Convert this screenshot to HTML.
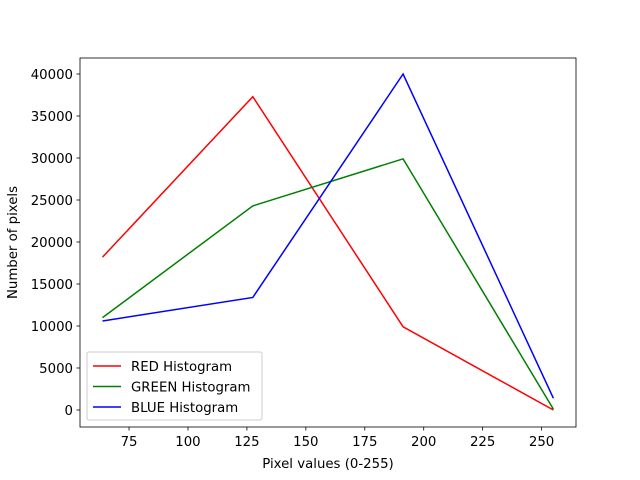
<!DOCTYPE html>
<html><head><meta charset="utf-8"><style>body{margin:0;background:#fff}svg{display:block;font-family:"DejaVu Sans","Liberation Sans",sans-serif}</style></head>
<body>
<svg id="chart" width="640" height="480" viewBox="0 0 640 480"></svg>
<script>
const xValues=[63.75,127.5,191.25,255];
const redValues=[18200,37300,9900,0];
const greenValues=[11000,24300,29900,100];
const blueValues=[10600,13400,40000,1400];
const xTicks=[75,100,125,150,175,200,225,250];
const yTicks=[0,5000,10000,15000,20000,25000,30000,35000,40000];
const seriesNames=["RED Histogram","GREEN Histogram","BLUE Histogram"];
const seriesColors=["#ff0000","#008000","#0000ff"];
const L=80,R=576,T=58,B=427,xmin=54.2,xmax=264.6,ymin=-2024,ymax=41905;
const sx=v=>L+(v-xmin)/(xmax-xmin)*(R-L);
const sy=v=>B-(v-ymin)/(ymax-ymin)*(B-T);
const svg=document.getElementById('chart');const NS='http://www.w3.org/2000/svg';
function mk(t,a,p){const e=document.createElementNS(NS,t);for(const k in a)e.setAttribute(k,a[k]);(p||svg).appendChild(e);return e;}
const series=[redValues,greenValues,blueValues];
series.forEach((vals,i)=>{
const pl=mk('polyline',{points:vals.map((v,j)=>sx(xValues[j])+','+sy(v)).join(' '),fill:'none',stroke:seriesColors[i],'stroke-width':1.5});


});
const frame=mk('rect',{x:L,y:T,width:R-L,height:B-T,fill:'none',stroke:'#000','stroke-width':0.8});


xTicks.forEach(t=>{const x=sx(t);mk('line',{x1:x,x2:x,y1:B,y2:B+3.5,stroke:'#000','stroke-width':0.8});
const tx=mk('text',{x:x,y:B+19,'text-anchor':'middle','font-size':13.3});tx.textContent=t;

});
yTicks.forEach(t=>{const y=sy(t);mk('line',{x1:L-3.5,x2:L,y1:y,y2:y,stroke:'#000','stroke-width':0.8});
const tx=mk('text',{x:L-7,y:y+4.8,'text-anchor':'end','font-size':13.3});tx.textContent=t;

});
const xt=mk('text',{x:(L+R)/2,y:468,'text-anchor':'middle','font-size':13.3});xt.textContent='Pixel values (0-255)';


const yt=mk('text',{x:17,y:(T+B)/2,'text-anchor':'middle','font-size':13.3,transform:'rotate(-90 17 '+(T+B)/2+')'});yt.textContent='Number of pixels';


const lg=mk('g',{});


mk('rect',{x:87,y:352,width:175,height:68,rx:2,fill:'#fff','fill-opacity':0.8,stroke:'#ccc'},lg);
seriesNames.forEach((n,i)=>{const y=366+i*20.5;
mk('line',{x1:93,x2:121,y1:y,y2:y,stroke:seriesColors[i],'stroke-width':1.5},lg);
const tx=mk('text',{x:131,y:y+4.8,'font-size':13.3},lg);tx.textContent=n;

});
</script>
</body></html>
